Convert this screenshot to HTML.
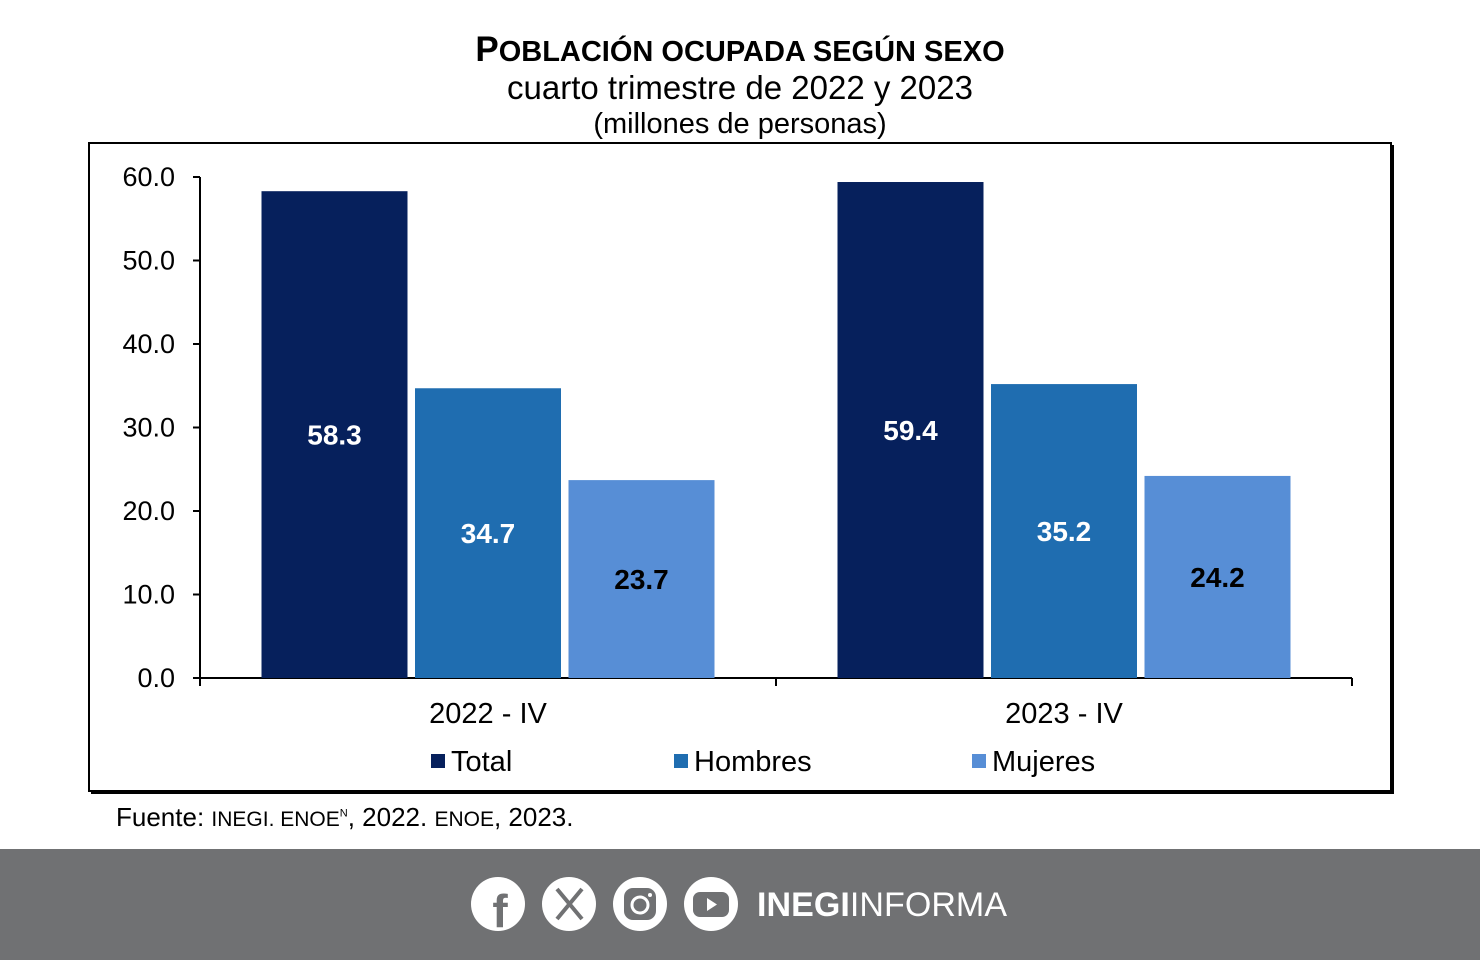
<!DOCTYPE html>
<html><head><meta charset="utf-8"><style>
body{margin:0;width:1480px;height:960px;background:#fff;font-family:"Liberation Sans",Arial,sans-serif;overflow:hidden;position:relative}
.t{position:absolute;left:0;width:1480px;text-align:center;color:#000}
</style></head><body>
<div class="t" style="top:30px;font-size:29px;font-weight:bold"><span style="font-size:35px">P</span>OBLACIÓN OCUPADA SEGÚN SEXO</div>
<div class="t" style="top:69px;font-size:33px">cuarto trimestre de 2022 y 2023</div>
<div class="t" style="top:108px;font-size:29px">(millones de personas)</div>
<svg id="c" width="1480" height="960" style="position:absolute;left:0;top:0">
<rect x="89" y="143" width="1302" height="648" fill="none" stroke="#000" stroke-width="2"/>
<line x1="91" y1="792.5" x2="1393" y2="792.5" stroke="#000" stroke-width="3"/>
<line x1="1392.5" y1="145" x2="1392.5" y2="794" stroke="#000" stroke-width="3"/>
</svg>
<div style="position:absolute;left:116px;top:802px;font-size:26px">Fuente: <span style="font-size:21px">INEGI. ENOE</span><sup style="font-size:11px">N</sup>, 2022. <span style="font-size:21px">ENOE</span>, 2023.</div>
<div style="position:absolute;left:0;top:849px;width:1480px;height:111px;background:#707173">
<svg width="560" height="70" style="position:absolute;left:470px;top:20px">
<g><circle cx="28" cy="35" r="27" fill="#fff"/><text x="30" y="58" font-size="46" font-weight="bold" fill="#707173" text-anchor="middle" font-family="Liberation Sans">f</text></g>
<g><circle cx="99" cy="35" r="27" fill="#fff"/><path d="M87 20 L112 50 M112 20 L87 50" stroke="#707173" stroke-width="4"/></g>
<g><circle cx="170" cy="35" r="27" fill="#fff"/><rect x="154" y="19" width="32" height="32" rx="9" fill="#707173"/><circle cx="170" cy="36" r="8" fill="none" stroke="#fff" stroke-width="3"/><circle cx="180" cy="26" r="2" fill="#fff"/></g>
<g><circle cx="241" cy="35" r="27" fill="#fff"/><rect x="223" y="23" width="36" height="25" rx="7" fill="#707173"/><path d="M237 29 L247 35.5 L237 42Z" fill="#fff"/></g>
<text x="287" y="47" font-size="34" fill="#fff" font-family="Liberation Sans" textLength="250"><tspan font-weight="bold">INEGI</tspan>INFORMA</text>
</svg></div>
<script>
const categories=["2022 - IV","2023 - IV"];
const seriesNames=["Total","Hombres","Mujeres"];
const totalVals=[58.3,59.4];
const hombresVals=[34.7,35.2];
const mujeresVals=[23.7,24.2];
const yTicks=[0,10,20,30,40,50,60];
const colors=["#06205c","#1f6db0","#578ed6"];
const labelColors=["#fff","#fff","#000"];
const NS="http://www.w3.org/2000/svg";
const svg=document.getElementById('c');
const y0=678,y60=177,xL=200,xR=1352;
const y=v=>y0-(v/60)*(y0-y60);
const gw=(xR-xL)/categories.length;
function mk(tag,attrs){const e=document.createElementNS(NS,tag);for(const k in attrs)e.setAttribute(k,attrs[k]);svg.appendChild(e);return e;}
let ax=mk('line',{x1:xL,y1:y0,x2:xR,y2:y0,stroke:'#000','stroke-width':2});


let ay=mk('line',{x1:xL,y1:y60,x2:xL,y2:y0,stroke:'#000','stroke-width':2});


yTicks.forEach(t=>{
 mk('line',{x1:xL-7,y1:y(t),x2:xL,y2:y(t),stroke:'#000','stroke-width':2});
 const tx=mk('text',{x:xL-25,y:y(t)+9,'font-size':27,'text-anchor':'end','font-family':'Liberation Sans'});
 tx.textContent=t.toFixed(1);
 
 
});
for(let i=0;i<=categories.length;i++)mk('line',{x1:xL+i*gw,y1:y0,x2:xL+i*gw,y2:y0+8,stroke:'#000','stroke-width':2});
const series=[totalVals,hombresVals,mujeresVals];
const bw=146,gap=7.5;
categories.forEach((c,i)=>{
 const cx=xL+gw*(i+0.5);
 const lt=mk('text',{x:cx,y:y0+45,'font-size':29,'text-anchor':'middle','font-family':'Liberation Sans'});
 lt.textContent=c;
 
 
 series.forEach((s,j)=>{
  const x0=cx-1.5*bw-gap+j*(bw+gap);
  const r=mk('rect',{x:x0,y:y(s[i]),width:bw,height:y0-y(s[i]),fill:colors[j]});
  
  
  const v=mk('text',{x:x0+bw/2,y:(y(s[i])+y0)/2+10,'font-size':28,'font-weight':'bold','text-anchor':'middle',fill:labelColors[j],'font-family':'Liberation Sans'});
  v.textContent=s[i].toFixed(1);
  
  
 });
});
const legX=[431,674,972];
seriesNames.forEach((n,j)=>{
 const sq=mk('rect',{x:legX[j],y:754,width:14,height:14,fill:colors[j]});
 
 
 const t=mk('text',{x:legX[j]+20,y:771,'font-size':29,'font-family':'Liberation Sans'});
 t.textContent=n;
 
 
});
</script>
</body></html>
